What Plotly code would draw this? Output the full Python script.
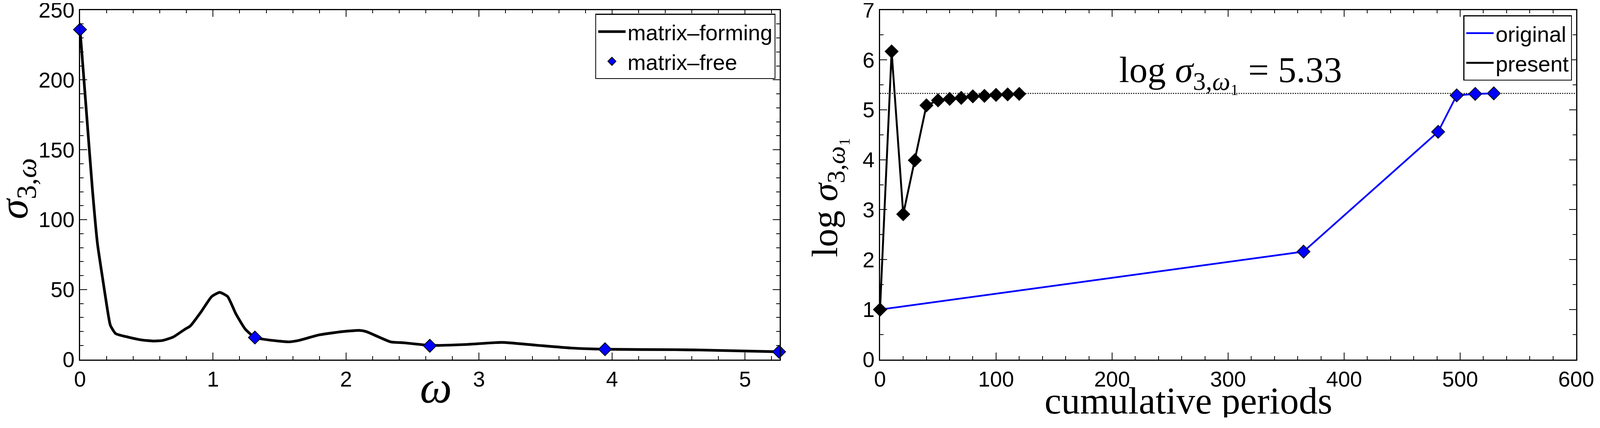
import plotly.graph_objects as go

# ---------------- data ----------------
omega_forming = [0, 0.015, 0.054, 0.093, 0.131, 0.17, 0.199, 0.228, 0.268, 0.36, 0.46,
                 0.55, 0.62, 0.70, 0.79, 0.83, 0.91, 0.99, 1.05, 1.11, 1.17, 1.24, 1.315,
                 1.44, 1.57, 1.64, 1.80, 1.97, 2.10, 2.15, 2.335, 2.44, 2.63, 2.90, 3.17,
                 3.42, 3.69, 3.95, 4.47, 4.65, 5.26]
sigma_forming = [236, 218, 170, 122, 83, 58, 40, 24.5, 18.5, 16, 14,
                 13.2, 13.6, 16, 21.7, 24, 34, 45, 48, 45, 33, 22, 15.7,
                 13.7, 12.6, 13.5, 17.6, 19.9, 20.8, 20, 12.6, 11.9, 10.1, 10.7, 12.2,
                 10.3, 8.2, 7.3, 7.0, 6.8, 5.5]

omega_free = [0, 1.315, 2.63, 3.947, 5.256]
sigma_free = [236, 15.7, 9.8, 7.3, 5.5]

periods_original = [0, 365, 481, 497, 513, 529]
log_original = [1.0, 2.16, 4.56, 5.29, 5.32, 5.33]

periods_present = [0, 10, 20, 30, 40, 50, 60, 70, 80, 90, 100, 110, 120]
log_present = [1.0, 6.17, 2.91, 3.99, 5.09, 5.19, 5.22, 5.24, 5.27, 5.28, 5.30, 5.31, 5.32]

ref_periods = [0, 600]
ref_value = 5.33

left_xticks = [0, 1, 2, 3, 4, 5]
left_yticks = [0, 50, 100, 150, 200, 250]
right_xticks = [0, 100, 200, 300, 400, 500, 600]
right_yticks = [0, 1, 2, 3, 4, 5, 6, 7]

# ---------------- layout helpers ----------------
S = 1.0156                   # screenshot / css pixel ratio observed
OFF = 8                      # default page margin of the html body
W, H = 4073, 1060


def px(x):
    return (x / S - OFF) / W


def py(y):
    return 1 - (y / S - OFF) / H


def sz(v):
    return v / S


SANS = "Liberation Sans"
SERIF = "Liberation Serif"
TICKFONT = dict(family=SANS, size=sz(56), color="black")
DIAMOND = dict(symbol="diamond", size=sz(26))
MLINE = dict(color="black", width=sz(2))

fig = go.Figure()

# left panel
fig.add_trace(go.Scatter(
    x=omega_forming, y=sigma_forming, mode="lines", name="matrix\u2013forming",
    line=dict(color="black", width=sz(7), shape="spline", smoothing=0.5),
    xaxis="x", yaxis="y", legend="legend"))
fig.add_trace(go.Scatter(
    x=omega_free, y=sigma_free, mode="markers", name="matrix\u2013free",
    marker=dict(color="#0000ff", line=MLINE, **DIAMOND),
    xaxis="x", yaxis="y", legend="legend", cliponaxis=False))

# right panel
fig.add_trace(go.Scatter(
    x=ref_periods, y=[ref_value] * len(ref_periods), mode="lines", showlegend=False,
    line=dict(color="black", width=sz(2.5), dash="dot"), xaxis="x2", yaxis="y2"))
fig.add_trace(go.Scatter(
    x=periods_original, y=log_original, mode="lines", name="original",
    line=dict(color="#0000ff", width=sz(4.5)), xaxis="x2", yaxis="y2", legend="legend2"))
fig.add_trace(go.Scatter(
    x=periods_original, y=log_original, mode="markers", showlegend=False,
    marker=dict(color="#0000ff", line=MLINE, **DIAMOND),
    xaxis="x2", yaxis="y2", cliponaxis=False))
fig.add_trace(go.Scatter(
    x=periods_present, y=log_present, mode="lines", name="present",
    line=dict(color="black", width=sz(5)), xaxis="x2", yaxis="y2", legend="legend2"))
fig.add_trace(go.Scatter(
    x=periods_present, y=log_present, mode="markers", showlegend=False,
    marker=dict(color="black", line=MLINE, **DIAMOND),
    xaxis="x2", yaxis="y2", cliponaxis=False))


def axis(domain, rng, tickvals, minor_dtick, anchor):
    return dict(
        domain=domain, range=rng, anchor=anchor,
        tickmode="array", tickvals=tickvals,
        ticks="inside", ticklen=sz(18), tickwidth=sz(2.5), tickcolor="black",
        minor=dict(ticks="inside", ticklen=sz(9), tickwidth=sz(2.5), tickcolor="black",
                   dtick=minor_dtick, tick0=0, showgrid=False),
        showline=True, linewidth=sz(3), linecolor="black", mirror="ticks",
        showgrid=False, zeroline=False, tickfont=TICKFONT,
        ticklabeloverflow="allow", automargin=False,
    )


yd = [py(934), py(26)]


def title_font(s):
    return dict(family=SERIF, size=sz(s), color="black")


legend_style = dict(xanchor="right", yanchor="top", bgcolor="white",
                    bordercolor="black", borderwidth=sz(2.5), itemwidth=70,
                    font=dict(family=SANS, size=sz(57), color="black"), tracegroupgap=0)

fig.update_layout(
    width=W, height=H,
    margin=dict(l=0, r=0, t=0, b=0),
    paper_bgcolor="white", plot_bgcolor="white",
    xaxis=axis([px(208), px(2027)], [0, 5.26], left_xticks, 0.2, "y"),
    yaxis=axis(yd, [0, 250], left_yticks, 10, "x"),
    xaxis2=axis([px(2288), px(4098)], [0, 600], right_xticks, 20, "y2"),
    yaxis2=axis(yd, [0, 7], right_yticks, 0.5, "x2"),
    legend=dict(x=px(2016), y=py(36), **legend_style),
    legend2=dict(x=px(4087), y=py(40), **legend_style),
    annotations=[
        dict(x=302, y=5.75, xref="x2", yref="y2", xanchor="center", yanchor="middle",
             text="log <i>\u03c3</i><sub>3,<i>\u03c9</i>\u2081</sub> = 5.33",
             showarrow=False, font=title_font(95)),
        # axis titles
        dict(x=px(1133), y=py(1006), xref="paper", yref="paper",
             xanchor="center", yanchor="middle", showarrow=False,
             text="<i>\u03c9</i>", font=title_font(118)),
        dict(x=px(44), y=py(490), xref="paper", yref="paper", textangle=-90,
             xanchor="center", yanchor="middle", showarrow=False,
             text="<i>\u03c3</i><sub>3,<i>\u03c9</i></sub>", font=title_font(105)),
        dict(x=px(3090), y=py(1041), xref="paper", yref="paper",
             xanchor="center", yanchor="middle", showarrow=False,
             text="cumulative periods", font=title_font(98)),
        dict(x=px(2151), y=py(512), xref="paper", yref="paper", textangle=-90,
             xanchor="center", yanchor="middle", showarrow=False,
             text="log <i>\u03c3</i><sub>3,<i>\u03c9</i>\u2081</sub>", font=title_font(95)),
    ],
    showlegend=True,
)

fig.write_html("out.html")
